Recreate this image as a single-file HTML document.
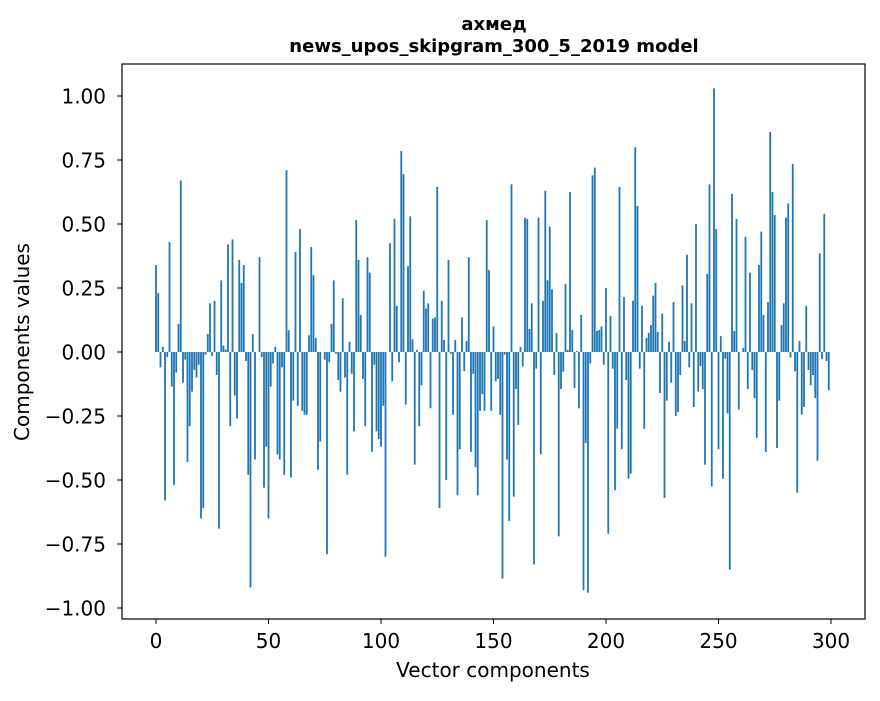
<!DOCTYPE html>
<html><head><meta charset="utf-8"><style>
body{margin:0;background:#fff}
text{font-family:"DejaVu Sans","Liberation Sans",sans-serif;fill:#000}
</style></head><body>
<svg id="chart" width="880" height="696" xmlns="http://www.w3.org/2000/svg">
<rect width="880" height="696" fill="#fff"/>
<text x="494" y="30" text-anchor="middle" font-size="18" font-weight="bold">ахмед</text>
<text x="494" y="52" text-anchor="middle" font-size="18" font-weight="bold">news_upos_skipgram_300_5_2019 model</text>
<g id="bars"></g>
<rect x="122" y="64" width="743" height="555" fill="none" stroke="#000" stroke-width="1.2"/>
<g id="xticks"></g>
<g id="yticks"></g>
<text x="493" y="677" text-anchor="middle" font-size="20">Vector components</text>
<text transform="translate(29,342) rotate(-90)" text-anchor="middle" font-size="20">Components values</text>
</svg>
<script>
const values = [0.34,0.23,-0.06,0.02,-0.58,-0.02,0.43,-0.135,-0.52,-0.08,0.11,0.67,-0.12,-0.03,-0.43,-0.29,-0.155,-0.07,-0.1,-0.05,-0.65,-0.61,-0.01,0.07,0.19,-0.015,0.2,-0.09,-0.69,0.28,0.025,0.01,0.42,-0.29,0.44,-0.17,-0.26,0.36,0.27,0.34,-0.035,-0.48,-0.92,0.07,-0.42,0.0,0.37,-0.02,-0.53,-0.37,-0.65,
-0.135,-0.045,0.02,-0.4,-0.42,-0.06,-0.48,0.71,0.085,-0.49,-0.19,0.39,-0.21,0.48,-0.23,-0.245,-0.245,0.065,0.41,0.3,0.055,-0.46,-0.35,0,-0.03,-0.79,-0.04,0.11,0.28,-0.006,-0.11,-0.155,0.21,-0.1,-0.48,0.04,-0.085,-0.31,0.515,0.36,0.145,-0.105,-0.29,0.37,0.31,-0.39,-0.05,-0.31,-0.34,-0.37,
-0.21,-0.8,0,
0.425,-0.115,0.52,0.18,-0.04,0.785,0.695,-0.205,0.335,0.53,0.05,-0.44,0.008,-0.29,-0.13,0.24,0.17,0.19,-0.22,0.13,0.135,0.645,-0.61,0.2,0.047,-0.5,0.36,-0.007,-0.245,0.047,-0.56,-0.38,0.135,-0.075,0.043,0.37,-0.39,-0.085,-0.45,-0.56,-0.23,-0.165,-0.23,0.515,0.32,-0.23,0.1,
-0.115,-0.105,-0.245,-0.885,-0.01,-0.42,-0.66,0.655,-0.565,-0.145,-0.285,0.02,-0.057,0.525,0.52,0.09,0.19,-0.83,-0.065,0.525,-0.4,0.2,0.63,0.28,0.49,0.245,-0.09,0.074,-0.72,-0.145,-0.077,0.265,0.008,0.625,0.086,-0.14,0.004,-0.22,0.145,-0.93,-0.355,-0.94,-0.045,0.69,0.72,0.082,0.086,0.1,-0.05,
0.25,-0.71,0.14,-0.065,-0.54,-0.3,0.645,-0.38,0.215,-0.11,-0.495,-0.475,0.2,0.8,0.57,-0.065,0.18,-0.3,0.055,0.074,0.105,0.22,0.27,0.078,-0.16,0.15,-0.57,-0.19,0.04,-0.12,0.195,-0.25,-0.235,-0.09,0.26,0.043,0.38,-0.06,0.19,-0.215,0.5,-0.155,-0.055,-0.145,-0.44,0.305,0.655,-0.525,1.03,0.48,
-0.38,0.062,-0.495,-0.026,-0.24,-0.85,0.617,0.082,0.52,-0.225,0,0.016,0.45,-0.145,0.31,-0.07,-0.18,-0.335,0.34,0.47,0.145,-0.39,0.195,0.86,0.625,0.535,-0.375,-0.19,0.105,0.19,0.525,0.58,-0.022,0.735,-0.075,-0.55,0.043,-0.245,-0.215,0.18,-0.07,-0.13,-0.09,-0.18,-0.425,0.385,-0.028,0.54,-0.035,-0.15];
const xTickValues = [0,50,100,150,200,250,300];
const yTickValues = [1.0,0.75,0.5,0.25,0.0,-0.25,-0.5,-0.75,-1.0];
const yTickLabels = ["1.00","0.75","0.50","0.25","0.00","\u22120.25","\u22120.50","\u22120.75","\u22121.00"];

const NS="http://www.w3.org/2000/svg";
function xs(v){return 156+v*2.25;}
function ys(v){return 352-v*256;}
const bars=document.getElementById('bars');
values.forEach((v,i)=>{
  const r=document.createElementNS(NS,'rect');
  
  
  const y0=ys(0),y1=ys(v);
  r.setAttribute('x',xs(i)-0.9);
  r.setAttribute('width',1.8);
  r.setAttribute('y',Math.min(y0,y1));
  r.setAttribute('height',Math.max(Math.abs(y1-y0),0.01));
  r.setAttribute('fill','#1f77b4');
  bars.appendChild(r);
});
const xt=document.getElementById('xticks');
xTickValues.forEach(v=>{
  const l=document.createElementNS(NS,'line');
  
  
  l.setAttribute('x1',xs(v));l.setAttribute('x2',xs(v));
  l.setAttribute('y1',619);l.setAttribute('y2',624);
  l.setAttribute('stroke','#000');
  xt.appendChild(l);
  const t=document.createElementNS(NS,'text');
  
  
  t.setAttribute('x',xs(v));t.setAttribute('y',648);
  t.setAttribute('text-anchor','middle');t.setAttribute('font-size','20');
  t.textContent=v;
  xt.appendChild(t);
});
const yt=document.getElementById('yticks');
yTickValues.forEach((v,i)=>{
  const l=document.createElementNS(NS,'line');
  
  
  l.setAttribute('x1',117);l.setAttribute('x2',122);
  l.setAttribute('y1',ys(v));l.setAttribute('y2',ys(v));
  l.setAttribute('stroke','#000');
  yt.appendChild(l);
  const t=document.createElementNS(NS,'text');
  
  
  t.setAttribute('x',106);t.setAttribute('y',ys(v)+7.5);
  t.setAttribute('text-anchor','end');t.setAttribute('font-size','20');
  t.textContent=yTickLabels[i];
  yt.appendChild(t);
});
</script>
</body></html>
